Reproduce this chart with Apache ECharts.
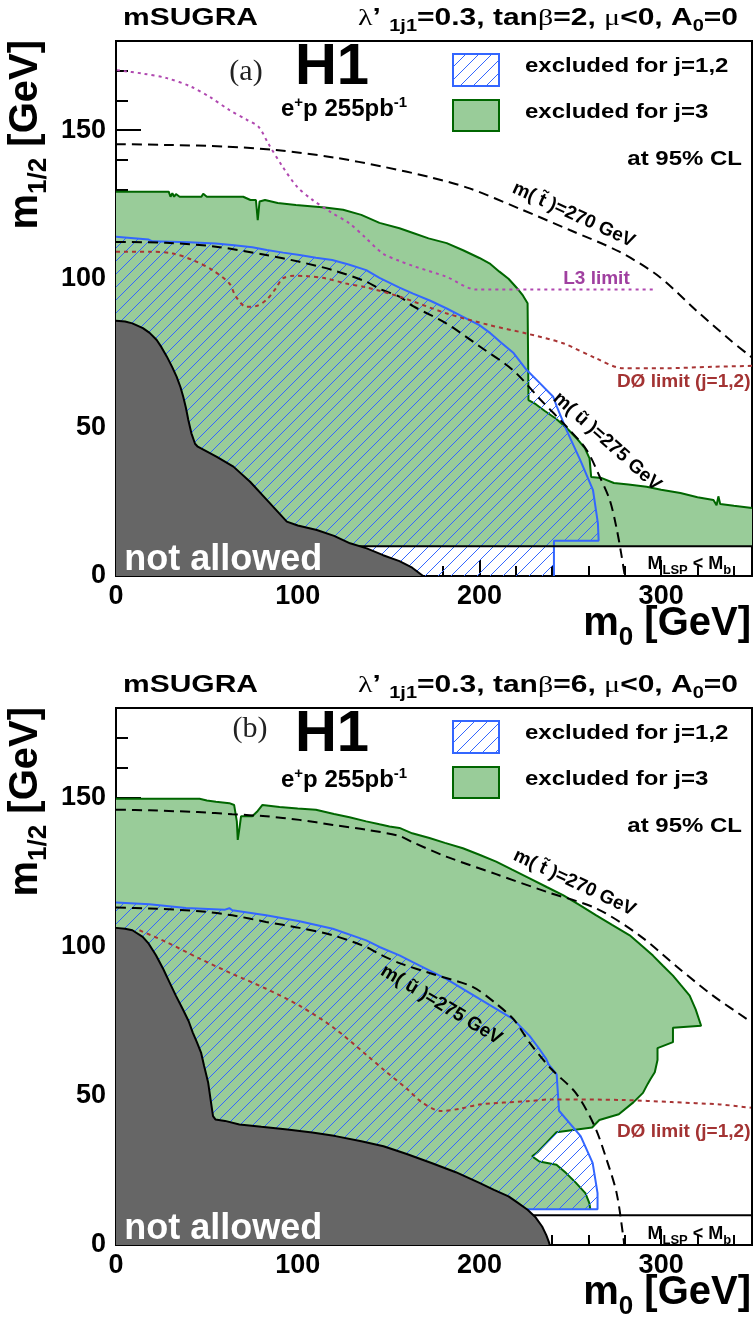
<!DOCTYPE html>
<html><head><meta charset="utf-8">
<script src="https://cdn.jsdelivr.net/npm/echarts@6/dist/echarts.min.js"></script>
<style>html,body{margin:0;padding:0;background:#fff}#c{width:753px;height:1327px}</style>
</head><body><div id="c"></div>
<script>
// ================= DATA (m0, m1/2 in GeV) =================
// ---- Panel (a): tanβ = 2 ----
const greenJ3_a = [[0,129.3],[29,129.3],[30,127.6],[31,128.8],[32,127.6],[33,128.5],[35,127.6],[47,127.6],[48,128.6],[50,127.6],[70,127.6],[74,126.5],[77,126.5],[78,119.7],[79,126],[82,126.5],[89,125.5],[99,124.8],[115,124],[125,123.2],[135,121.5],[145,118.8],[156,117],[163.5,115.4],[172,113.6],[182,112],[191,109.6],[200,107],[206,105],[211,102.4],[216,100],[220.6,96.9],[224,94.3],[226.5,91.8],[227,59.2],[231,57.8],[236,55.5],[242,53],[248,49.8],[254,46],[258,43],[260.6,39.6],[261.5,33.3],[267,33],[274,31.3],[282,30.8],[292,30],[300,29],[310.6,27.9],[320,26.5],[328.8,25.6],[330.5,23.8],[331.5,26.8],[332.5,24.2],[340,23.6],[350,22.9]];
const greenClose_a = [[350,10],[0,10]];
const blueJ12_a = [[0,114.1],[18,113.2],[20,112.6],[40,112.3],[55,111.9],[65,111.3],[75,110.6],[83,109.7],[92,108.8],[101,108],[110,107.1],[119,106.3],[128,104.8],[137.7,102.9],[145,100.3],[156,97],[163.5,95],[173,92.6],[182,90],[191,87.2],[200,84.4],[206,81.7],[212,78.5],[218.8,75],[226,69.3],[231.6,65.9],[240.6,60.3],[242.6,57],[248,49],[255.5,39],[262.5,28.9],[265.2,17.7],[265.6,11.9],[241,11.9],[241,0]];
const blueClose_a = [[0,0]];
const notAllowed_a = [[0,85.9],[5,85.6],[9,85],[14.8,83.4],[18.5,81.8],[22.4,79.4],[25,77],[28,73.8],[31,70.2],[33.4,67],[35.5,63.5],[37,60.3],[38.5,56.5],[39.8,52.5],[41.5,48],[43.5,44.5],[45,43.5],[55.5,40.1],[64.6,36.8],[73.8,31.7],[83,25.6],[94,18.3],[100,17],[110.5,15.5],[120,13.5],[128.8,11],[138,9.3],[147,7],[156,5],[163,2.8],[169,0]];
const notAllowedClose_a = [[0,0]];
const stop270_a = [[0,145.3],[30,145],[60,144.5],[88,143.3],[120,140.8],[147,137.7],[172,134.3],[194.6,130.4],[222,123.6],[249.7,116.4],[277,109.1],[299,100.7],[319,89.5],[338,79.4],[350,73.5]];
const up275_a = [[0,112.4],[27.5,112.1],[55,110.8],[82.6,108],[101,105.7],[119.4,102.9],[137.7,99],[145.4,96.5],[156,94],[163.5,90.8],[181.7,85],[200,77.3],[218.4,69.3],[233.5,59.4],[248,50.2],[259,42.4],[266.2,33.4],[271.7,25.6],[275.3,16.6],[278,7.6],[280,0]];
const d0_a = [[0,109.1],[18.4,109.1],[31.2,108.5],[42.2,106.3],[53.2,102.9],[62.4,98.4],[66,94],[71.6,90.6],[77,90.8],[82.6,92.8],[88,96.8],[91.7,100.1],[98,101],[104.6,100.9],[115.6,100.1],[126.6,98.4],[137.7,97.1],[156,94],[181.7,88.4],[205,84.5],[225.8,81.6],[246,78.3],[264.3,73.2],[279,69.9],[301,69.9],[328.5,70.4],[350,70.7]];
const l3_a = [[0.5,170.2],[15,169],[28,167.5],[41.4,164.6],[52,161],[62.6,156.7],[72,153.5],[78.5,151.1],[83.8,145.5],[91.7,137.7],[99.6,131],[107.6,126.8],[118,122.5],[128.5,118.6],[137,114],[146.8,108.5],[156,106],[163.5,104.3],[181.7,100.7],[198.2,96.4],[295.5,96.4]];

// ---- Panel (b): tanβ = 6 ----
const greenJ3_b = [[0,149.6],[46,149.6],[50,149],[55,148.6],[62.4,148.1],[65,147.5],[66.5,142],[67,135.8],[68,140],[68.8,143.7],[75,143.7],[78,145.5],[80.6,147.5],[90,146.8],[100,146.3],[110,145.9],[120,144.5],[128.5,143.4],[137.7,142],[145,141],[150.5,140.3],[156,139.8],[163,138],[172.5,136.4],[181,134.8],[190.9,133],[200,130.8],[209.2,128.5],[218,125.8],[227.6,122.9],[237,120],[246,117.3],[255,114],[264.3,110.5],[273,107.3],[282.7,103.8],[290,100],[295.5,97],[301,93.6],[306.5,90.3],[311,87],[315.7,83.6],[319,79],[322,73.5],[306.5,72.8],[306.5,68],[298,66],[298,62],[296.5,57.9],[294,55.5],[292.6,54],[290,51],[284.7,47.8],[276.7,43.8],[266,41.9],[262,39.4],[242.4,37.8],[237,34.3],[231.8,31],[229,29.7],[233,28],[242.4,26.9],[247.7,24.1],[253,20.9],[258.3,17.4],[260.5,14],[261,12]];
const greenClose_b = [[0,12]];
const blueJ12_b = [[0,114.8],[18.4,114.2],[38.5,113],[60,112.4],[62.4,112.9],[64,112.2],[82.6,110.5],[101,108.5],[119.3,106],[137.7,102.1],[145,99.9],[156,97.1],[163.3,94.8],[181.7,89.2],[200,82.5],[218.4,75.8],[227.6,70.1],[233,65.7],[236.8,62.3],[238,60.6],[242.5,57.2],[243.8,45],[255.7,36.5],[262.3,27.5],[265,17.4],[265,12],[222,12]];
const blueClose_b = [[0,12]];
const notAllowed_b = [[0,106.3],[5,106],[9,105.5],[14.7,103.3],[18,101],[22,97.1],[26,92.5],[29.4,88.1],[33,83.5],[36.7,79.1],[40,75],[42.2,71.3],[44.5,68],[46.8,64.5],[48.5,60],[50.7,54.5],[52,49],[53.4,43.2],[54.7,42.1],[60,41.6],[67.9,40.4],[80,39.6],[94.3,38.7],[108,37.7],[120.8,36.5],[135,34.8],[147.2,33.1],[160,30.5],[173.6,27.5],[187,24.4],[200,20.8],[208,18.5],[216,16.3],[221,14.2],[226.5,11.8],[231,9.2],[234.5,6.2],[236.8,3.3],[238.4,0.7],[238.6,0]];
const notAllowedClose_b = [[0,0]];
const stop270_b = [[0,145.9],[18.4,145.7],[45,145.1],[64,144.4],[82.6,143.7],[101,142.5],[119.4,140.8],[137.7,139.2],[156,137.1],[163.3,135],[181.7,130.2],[209.2,124.3],[236.8,118.4],[264.3,112.8],[288,103.8],[310,92.6],[328.5,83.6],[347,75.8],[350,74.5]];
const up275_b = [[0,113.1],[18.4,112.8],[46,111.9],[64,110.5],[82.6,108.3],[101,106.3],[119.4,103.8],[137.7,99.9],[145,97.5],[156,94.5],[176,90.5],[196,86.6],[209,81],[219,75.5],[228,67.5],[239.7,58.9],[253,51],[263.4,39.8],[270,28.6],[275.5,17.4],[279.4,1.7],[279.6,0]];
const d0_b = [[12.9,105.5],[27.5,101.6],[46,96],[64,90.9],[82.6,85.9],[101,80.2],[119.4,73],[137.7,63.8],[147,58.9],[160.4,52.2],[168.4,47.8],[179,44.9],[189.5,45.7],[200,47.1],[226.5,48.2],[239.7,48.8],[279.4,48.6],[305.8,47.9],[332.3,47.1],[349.4,46]];

// boundary M_LSP < M_b
const mlspMb = [[0,10],[350,10]];

// axis ranges / tick steps
const xRange = [0, 350], yRange = [0, 180];
const xMajor = 100, xMinor = 20, yMajor = 50, yMinor = 10;

// header texts
const headers = [
  {panel:'a', tanb:'2'},
  {panel:'b', tanb:'6'}
];

// ================= RENDERING =================
const SANS = '"Liberation Sans", Arial, Helvetica, sans-serif';
const SERIF = '"Liberation Serif", "Times New Roman", serif';
const GREEN = '#99cc99', GREEN_DK = '#006600', BLUE = '#3366ff', GRAY = '#666666';
const chart = echarts.init(document.getElementById('c'), null, {renderer:'canvas'});

// hatch pattern
const hc = document.createElement('canvas'); hc.width = 13; hc.height = 13;
(function(){ const c = hc.getContext('2d'); c.strokeStyle = BLUE; c.lineWidth = 1;
  c.beginPath(); c.moveTo(0,13); c.lineTo(13,0); c.moveTo(-2,2); c.lineTo(2,-2); c.moveTo(11,15); c.lineTo(15,11); c.stroke(); })();
const hatch = {image: hc, repeat: 'repeat'};

const grids = [
  {left:116, top:41, width:636, height:535},
  {left:116, top:708, width:636, height:537}
];

function xAxes(gi){
  const base = {type:'value', gridIndex:gi, min:xRange[0], max:xRange[1], position:'bottom', splitLine:{show:false}};
  return [
    Object.assign({}, base, {interval:xMajor, axisLine:{show:true, lineStyle:{color:'#000', width:2}},
      axisTick:{show:true, inside:true, length:16, lineStyle:{color:'#000', width:2}},
      axisLabel:{show:true, margin:7, fontSize:27, fontWeight:'bold', fontFamily:SANS, color:'#000',
        formatter: v => (v % xMajor === 0 ? String(v) : '')}}),
    Object.assign({}, base, {interval:xMinor, axisLine:{show:false},
      axisTick:{show:true, inside:true, length:10, lineStyle:{color:'#000', width:2}}, axisLabel:{show:false}})
  ];
}
function yAxes(gi){
  const base = {type:'value', gridIndex:gi, min:yRange[0], max:yRange[1], position:'left', splitLine:{show:false}};
  return [
    Object.assign({}, base, {interval:yMajor, axisLine:{show:true, lineStyle:{color:'#000', width:2}},
      axisTick:{show:true, inside:true, length:25, lineStyle:{color:'#000', width:2}},
      axisLabel:{show:true, margin:10, fontSize:27, fontWeight:'bold', fontFamily:SANS, color:'#000',
        formatter: v => (v % yMajor === 0 ? String(v) : '')}}),
    Object.assign({}, base, {interval:yMinor, axisLine:{show:false},
      axisTick:{show:true, inside:true, length:12, lineStyle:{color:'#000', width:2}}, axisLabel:{show:false}})
  ];
}

function polyS(edge, close, ai, fill, z){
  const pts = edge.concat(close);
  return {type:'custom', xAxisIndex:ai, yAxisIndex:ai, z, silent:true, clip:true, data:pts,
    renderItem(params, api){
      if (params.dataIndex !== 0) return null;
      return {type:'polygon', shape:{points: pts.map(p => api.coord(p))}, style:{fill: fill, stroke:null}};
    }};
}
function lineS(data, ai, color, width, type, z, smooth){
  return {type:'line', xAxisIndex:ai, yAxisIndex:ai, data, symbol:'none', showSymbol:false, smooth: smooth || false,
    lineStyle:{color, width, type}, z, silent:true, clip:true};
}

function panelSeries(ai, P){
  const s = [
    polyS(P.green, P.greenClose, ai, GREEN, 2),
    lineS(P.green, ai, GREEN_DK, 2, 'solid', 3),
    polyS(P.blue, P.blueClose, ai, hatch, 4),
    lineS(P.blue, ai, BLUE, 2, 'solid', 5),
    lineS(mlspMb, ai, '#000', 2, 'solid', 5),
    polyS(P.gray, P.grayClose, ai, GRAY, 6),
    lineS(P.gray, ai, '#000', 2, 'solid', 7),
    lineS(P.stop, ai, '#000', 2, [10,6], 8, 0.3),
    lineS(P.up, ai, '#000', 2, [10,6], 8, 0.3),
    lineS(P.d0, ai, '#a83434', 2, [4,4], 8, 0.3)
  ];
  if (P.l3) s.push(lineS(P.l3, ai, '#b048b0', 2, [3,4], 8, 0.3));
  return s;
}

const option = {
  animation:false,
  backgroundColor:'#fff',
  grid: grids.map(g => Object.assign({show:true, borderColor:'#000', borderWidth:2, backgroundColor:'#fff', containLabel:false, outerBoundsMode:'none'}, g)),
  xAxis: xAxes(0).concat(xAxes(1)),
  yAxis: yAxes(0).concat(yAxes(1)),
  series: panelSeries(0, {green:greenJ3_a, greenClose:greenClose_a, blue:blueJ12_a, blueClose:blueClose_a,
            gray:notAllowed_a, grayClose:notAllowedClose_a, stop:stop270_a, up:up275_a, d0:d0_a, l3:l3_a})
          .concat(panelSeries(2, {green:greenJ3_b, greenClose:greenClose_b, blue:blueJ12_b, blueClose:blueClose_b,
            gray:notAllowed_b, grayClose:notAllowedClose_b, stop:stop270_b, up:up275_b, d0:d0_b}))
};
chart.setOption(option);

// ---------- text helpers ----------
const mctx = document.createElement('canvas').getContext('2d');
function run(parts, o){
  let cx = 0; const kids = [];
  for (const p of parts){
    const size = p.s, fam = p.f || SANS, wt = p.w || 'bold';
    const font = wt + ' ' + size + 'px ' + fam;
    mctx.font = font;
    const w = mctx.measureText(p.t).width;
    const y = (p.dy || 0) - (o.vmid ? 0 : 0.35 * size);
    kids.push({type:'text', x:cx, y, z:100, zlevel:0, silent:true,
      style:{text:p.t, font, fill:p.c || o.color || '#000', align:'left', verticalAlign:'middle', textAlign:'left', textVerticalAlign:'middle'}});
    cx += w;
  }
  const off = o.align === 'right' ? -cx : (o.align === 'center' ? -cx / 2 : 0);
  kids.forEach(k => { k.x += off; });
  return {type:'group', x:o.x, y:o.y, rotation:o.rot || 0, scaleX:o.sx || 1, scaleY:o.sy || 1, z:100, silent:true, children:kids};
}
const px = (ai, x, y) => chart.convertToPixel({xAxisIndex:ai, yAxisIndex:ai}, [x, y]);

const g = [];
[0, 1].forEach(pi => {
  const top = grids[pi].top, ai = pi * 2, h = headers[pi];
  const dy = pi === 0 ? 0 : 667;
  // header
  g.push(run([{t:'mSUGRA', s:30}], {x:123, y:27 + dy, sy:0.8}));
  g.push(run([
    {t:'λ', s:30, f:SERIF, w:'normal'}, {t:'’ ', s:30}, {t:'1j1', s:20, dy:6},
    {t:'=0.3, tan', s:30}, {t:'β', s:30, f:SERIF, w:'normal'}, {t:'=' + h.tanb + ', ', s:30},
    {t:'μ', s:30, f:SERIF, w:'normal'}, {t:'<0, A', s:30}, {t:'0', s:20, dy:6}, {t:'=0', s:30}
  ], {x:738, y:27 + dy, align:'right', sy:0.8}));
  // H1, panel tag, lumi
  g.push(run([{t:'H1', s:58}], {x:332, y:top + 47, align:'center'}));
  g.push(run([{t:'(' + h.panel + ')', s:30, f:SERIF, w:'normal', c:'#222'}], {x:pi === 0 ? 246 : 250, y:pi === 0 ? 83 : 740, align:'center'}));
  g.push(run([{t:'e', s:24}, {t:'+', s:15, dy:-10}, {t:'p 255pb', s:24}, {t:'-1', s:15, dy:-10}], {x:281, y:pi === 0 ? 118 : 789}));
  // legend
  g.push({type:'rect', z:100, shape:{x:453, y:top + 13, width:46, height:32}, style:{fill:'#fff', stroke:null}});
  g.push({type:'rect', z:101, shape:{x:453, y:top + 13, width:46, height:32}, style:{fill:hatch, stroke:BLUE, lineWidth:2}});
  g.push({type:'rect', z:100, shape:{x:453, y:top + 59, width:46, height:31}, style:{fill:GREEN, stroke:GREEN_DK, lineWidth:2}});
  g.push(run([{t:'excluded for j=1,2', s:24}], {x:525, y:top + 32.5, sy:0.88}));
  g.push(run([{t:'excluded for j=3', s:24}], {x:525, y:top + 79, sy:0.88}));
  g.push(run([{t:'at 95% CL', s:24}], {x:742, y:top + 126, align:'right', sy:0.88}));
  // axis titles
  g.push(run([{t:'m', s:40}, {t:'1/2', s:26, dy:8}, {t:' [GeV]', s:40}], {x:40, y:top - 1, align:'right', rot:Math.PI / 2}));
  g.push(run([{t:'m', s:40}, {t:'0', s:26, dy:9}, {t:' [GeV]', s:40}], {x:751, y:pi === 0 ? 638 : 1307, align:'right'}));
  // in-plot labels
  let p = px(ai, 4.5, 1.0);
  g.push(run([{t:'not allowed', s:36, c:'#fff'}], {x:p[0], y:p[1]}));
  p = px(ai, 292.5, pi === 0 ? 2.0 : 1.7);
  g.push(run([{t:'M', s:18}, {t:'LSP', s:13, dy:5}, {t:' < M', s:18}, {t:'b', s:13, dy:5}], {x:p[0], y:p[1]}));
  if (pi === 0){
    p = px(ai, 251.8, 121.5);
    g.push(run([{t:'m( t\u0303 )=270 GeV', s:19}], {x:p[0], y:p[1], align:'center', vmid:true, rot:-0.43}));
    p = px(ai, 270.2, 45.2);
    g.push(run([{t:'m( ũ )=275 GeV', s:19}], {x:p[0], y:p[1], align:'center', vmid:true, rot:-0.73}));
    p = px(ai, 264.4, 99.9);
    g.push(run([{t:'L3 limit', s:19, c:'#a040a0'}], {x:p[0], y:p[1], align:'center', vmid:true}));
    p = px(ai, 312.4, 65.3);
    g.push(run([{t:'DØ limit (j=1,2)', s:19, c:'#a33333'}], {x:p[0], y:p[1], align:'center', vmid:true}));
  } else {
    p = px(ai, 252.3, 121.4);
    g.push(run([{t:'m( t\u0303 )=270 GeV', s:19}], {x:p[0], y:p[1], align:'center', vmid:true, rot:-0.44}));
    p = px(ai, 179, 80.5);
    g.push(run([{t:'m( ũ )=275 GeV', s:19}], {x:p[0], y:p[1], align:'center', vmid:true, rot:-0.54}));
    p = px(ai, 312.4, 37.9);
    g.push(run([{t:'DØ limit (j=1,2)', s:19, c:'#a33333'}], {x:p[0], y:p[1], align:'center', vmid:true}));
  }
});
chart.setOption({graphic: g});
</script></body></html>
